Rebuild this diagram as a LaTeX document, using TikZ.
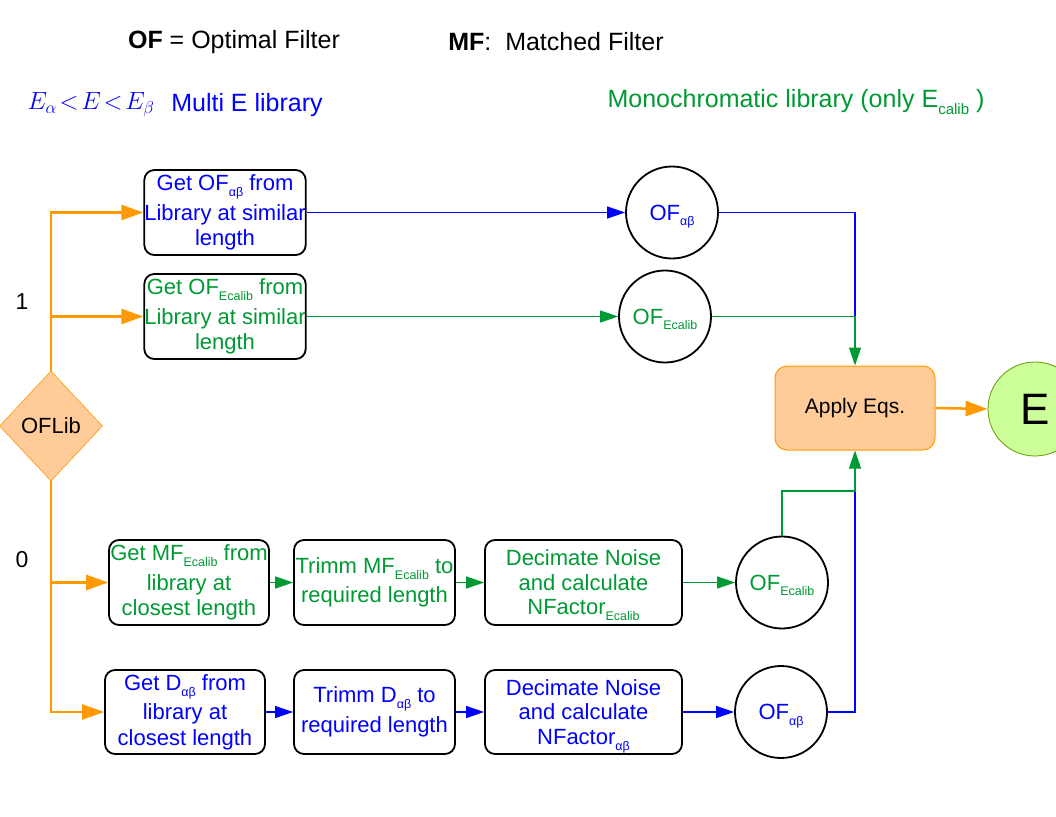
\documentclass[tikz,border=0pt]{standalone}
\usepackage{fontspec}
\setmainfont{Liberation Sans}
\usetikzlibrary{arrows.meta,shapes.geometric}
\definecolor{cblue}{HTML}{0000FF}
\definecolor{cgreen}{HTML}{009933}
\definecolor{corange}{HTML}{FF9900}
\definecolor{cfill}{HTML}{FFCC99}
\definecolor{efill}{HTML}{CCFF99}
\definecolor{edraw}{HTML}{669900}
\newcommand{\sbx}[1]{\raisebox{-0.5ex}[0pt][0pt]{\fontsize{12.5}{12.5}\selectfont #1}}
\newcommand{\sbt}[1]{\raisebox{-0.5ex}[0pt][0pt]{\fontsize{15}{15}\selectfont #1}}
\begin{document}
\begin{tikzpicture}[x=1pt,y=-1pt,
  boxst/.style={draw=black,line width=1.8pt,rounded corners=10pt,minimum width=160pt,minimum height=85pt,inner sep=0pt,align=center,font=\fontsize{22}{25.5}\selectfont},
  ofc/.style={circle,draw=black,line width=1.8pt,minimum size=92pt,inner sep=0pt,font=\fontsize{22}{25}\selectfont},
  oline/.style={draw=corange,line width=2.5pt},
  bline/.style={draw=cblue,line width=1.2pt},
  gline/.style={draw=cgreen,line width=1.2pt},
  otip/.style={-{Triangle[length=22pt,width=15pt]}},
  ttip/.style={-{Triangle[length=18pt,width=12pt]}},
  title/.style={inner sep=0pt,font=\fontsize{25}{30}\selectfont},
  lab/.style={inner sep=0pt,font=\fontsize{23}{25}\selectfont}
]
\useasboundingbox (0,0) rectangle (1056,816);

% titles
\node[title] (t1) at (234,42) {\textbf{OF} = Optimal Filter};
\node[title] (t2) at (556,42) {\textbf{MF}:\ \ Matched Filter};
\node[title,text=cblue] (t3) at (91,105) {$E_\alpha\!<\!E\!<\!E_\beta$};
\node[title,text=cblue] (t4) at (247,105) {Multi E library};
\node[title,text=cgreen] (t5) at (796,101) {Monochromatic library (only E\sbt{calib} )};

% decision
\node[diamond,fill=cfill,draw=corange,line width=0.6pt,minimum width=103pt,minimum height=110pt,inner sep=0pt,font=\fontsize{22}{25}\selectfont] (dia) at (51,426) {OFLib};
\node[lab] (l1) at (22,302) {1};
\node[lab] (l0) at (22,560) {0};

% boxes
\node[boxst,text=cblue] (b1) at (225,212.5) {Get OF\sbx{αβ} from\\[4pt]Library at similar\\length};
\node[boxst,text=cgreen] (b2) at (225,316.5) {Get OF\sbx{Ecalib} from\\[4pt]Library at similar\\length};
\node[boxst,text=cgreen] (b3) at (189,582.5) {Get MF\sbx{Ecalib} from\\[4pt]library at\\closest length};
\node[boxst,text=cblue,minimum height=84pt] (b4) at (185,712) {Get D\sbx{αβ} from\\[4pt]library at\\closest length};
\node[boxst,text=cgreen,minimum width=161pt] (b5) at (374.5,582.5) {Trimm MF\sbx{Ecalib} to\\[4pt]required length};
\node[boxst,text=cblue,minimum width=161pt,minimum height=84pt] (b6) at (374.5,712) {Trimm D\sbx{αβ} to\\[4pt]required length};
\node[boxst,text=cgreen,minimum width=197pt,font=\fontsize{22}{24.5}\selectfont] (b7) at (583.5,582.5) {Decimate Noise\\and calculate\\NFactor\sbx{Ecalib}};
\node[boxst,text=cblue,minimum width=197pt,minimum height=84pt,font=\fontsize{22}{24.5}\selectfont] (b8) at (583.5,712) {Decimate Noise\\and calculate\\NFactor\sbx{αβ}};

% circles
\node[ofc,text=cblue] (c1) at (672,212.5) {OF\sbx{αβ}};
\node[ofc,text=cgreen] (c2) at (665,316.5) {OF\sbx{Ecalib}};
\node[ofc,text=cgreen] (c3) at (782,582.5) {OF\sbx{Ecalib}};
\node[ofc,text=cblue] (c4) at (781,712) {OF\sbx{αβ}};

% apply and result
\node[draw=corange,fill=cfill,line width=1pt,rounded corners=12pt,minimum width=160pt,minimum height=84pt,inner sep=0pt,font=\fontsize{21}{25}\selectfont] (ap) at (855,408) {Apply Eqs.};
\node[circle,draw=edraw,fill=efill,line width=0.8pt,minimum size=94pt,inner sep=0pt,font=\fontsize{44}{50}\selectfont] (E) at (1035,409) {E};

% orange connectors
\draw[oline,otip] (dia.north) |- (b1.west);
\draw[oline,otip] (dia.north |- b2.west) -- (b2.west);
\draw[oline,otip] (dia.south) |- (b4.west);
\draw[oline,otip] (dia.south |- b3.west) -- (b3.west);
\draw[oline,otip] (ap.east) -- (E.west);

% top rows
\draw[bline,ttip] (b1.east) -- (c1.west);
\draw[gline,ttip] (b2.east) -- (c2.west);
\coordinate (j1) at (ap.north |- c2.east);
\draw[bline] (c1.east) -| (j1);
\draw[gline,ttip] (c2.east) -- (j1) -- (ap.north);

% bottom rows
\draw[gline,ttip] (b3.east) -- (b5.west);
\draw[gline,ttip] (b5.east) -- (b7.west);
\draw[gline,ttip] (b7.east) -- (c3.west);
\draw[bline,ttip] (b4.east) -- (b6.west);
\draw[bline,ttip] (b6.east) -- (b8.west);
\draw[bline,ttip] (b8.east) -- (c4.west);
\coordinate (j2) at (855,491);
\draw[bline] (c4.east) -| (j2);
\draw[gline,ttip] (c3.north) |- (j2) -- (ap.south);
\end{tikzpicture}
\end{document}
